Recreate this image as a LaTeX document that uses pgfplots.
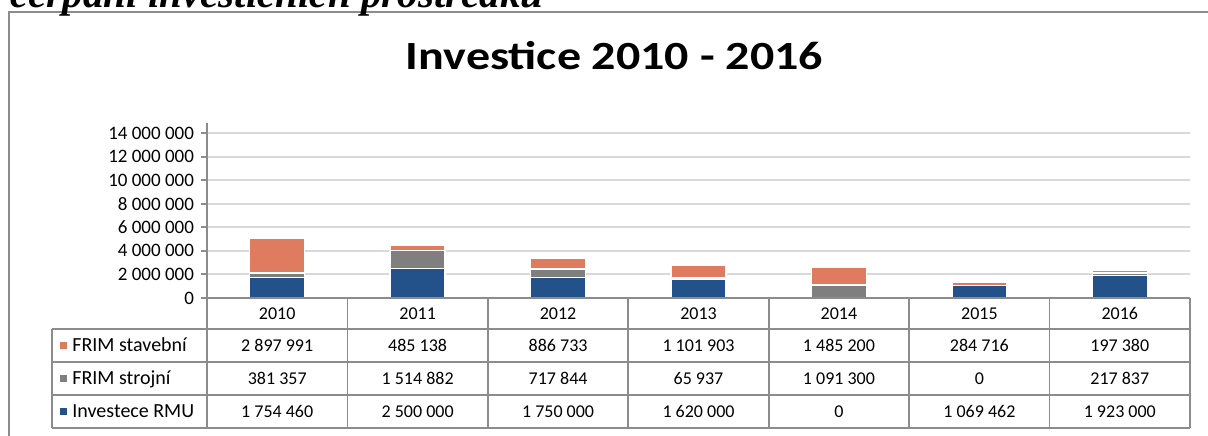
\documentclass[border=0pt]{standalone}
\usepackage{pgfplots}
\usepackage{pgfplotstable}
\pgfplotsset{compat=1.18}
\usepackage{fontspec}
\setmainfont{Carlito}
\newfontfamily\headserif{Liberation Serif}

\definecolor{rmu}{HTML}{23518A}
\definecolor{stroj}{HTML}{7F7F7F}
\definecolor{stav}{HTML}{DF7B5E}
\definecolor{gridc}{HTML}{D9D9D9}
\definecolor{framec}{HTML}{8C8C8C}

% year index, Investece RMU, FRIM strojni, FRIM stavebni
\pgfplotstableread{
x rmu stroj stav
0 1754460 381357 2897991
1 2500000 1514882 485138
2 1750000 717844 886733
3 1620000 65937 1101903
4 0 1091300 1485200
5 1069462 0 284716
6 1923000 217837 197380
}\data

\begin{document}
\begin{tikzpicture}
% 1 unit = 1 px of the 1208x435 reference
\begin{scope}[x=0.5pt,y=0.5pt]
\useasboundingbox (0,0) rectangle (1208,435);
\draw[framec, line width=0.9pt] (9,-10) -- (9,423) -- (1240,423);
\node[anchor=base west, inner sep=0] at (10,427)
  {\headserif\bfseries\itshape\fontsize{20.5}{22}\selectfont čerpání investičních prostředků};
\node[anchor=base, inner sep=0] at (614.5,365)
  {\scalebox{1.2}[1]{\bfseries\fontsize{20}{22}\selectfont Investice 2010 - 2016}};
\end{scope}

\begin{axis}[
  at={(103.5pt,68.5pt)}, anchor=south west,
  scale only axis, width=491.5pt, height=87.5pt,
  xmin=-0.5, xmax=6.5,
  ymin=0, ymax=14850000,
  ybar stacked, bar width=27.5pt,
  xtick=\empty,
  scaled y ticks=false,
  ytick={0,2000000,4000000,6000000,8000000,10000000,12000000,14000000},
  yticklabels={0,2 000 000,4 000 000,6 000 000,8 000 000,10 000 000,12 000 000,14 000 000},
  yticklabel style={font=\fontsize{9.5}{10}\selectfont},
  axis y line*=left, axis x line*=bottom,
  axis line style={framec, line width=1pt},
  tick align=outside, major tick length=3pt,
  ytick style={framec, line width=1pt},
  ymajorgrids, grid style={gridc, line width=1pt},
]
\addplot[fill=rmu, draw=white, line width=0.75pt] table[x=x,y=rmu]{\data};
\addplot[fill=stroj, draw=white, line width=0.75pt] table[x=x,y=stroj]{\data};
\addplot[fill=stav, draw=white, line width=0.75pt] table[x=x,y=stav]{\data};
\end{axis}

% data table below the plot
\begin{scope}[x=0.5pt,y=0.5pt]
\def\cw{140.4286}
\begin{scope}[framec, line width=0.8pt]
  \draw (207,137) -- (1190,137);
  \foreach \yy in {106,73,40,7} \draw (52,\yy) -- (1190,\yy);
  \draw (52,106) -- (52,7);
  \foreach \k in {0,...,7} \draw ({207+\k*\cw},137) -- ({207+\k*\cw},7);
\end{scope}

\begin{scope}[every node/.style={anchor=base, inner sep=0, font=\fontsize{9}{10}\selectfont}]
  \foreach \v [count=\i from 0] in {2010,2011,2012,2013,2014,2015,2016}
    \node at ({207+(\i+0.5)*\cw},115.5) {\v};
  \foreach \v [count=\i from 0] in {2 897 991,485 138,886 733,1 101 903,1 485 200,284 716,197 380}
    \node at ({207+(\i+0.5)*\cw},83.5) {\v};
  \foreach \v [count=\i from 0] in {381 357,1 514 882,717 844,65 937,1 091 300,0,217 837}
    \node at ({207+(\i+0.5)*\cw},50.5) {\v};
  \foreach \v [count=\i from 0] in {1 754 460,2 500 000,1 750 000,1 620 000,0,1 069 462,1 923 000}
    \node at ({207+(\i+0.5)*\cw},17.5) {\v};

  \fill[stav] (60,86) rectangle (67,93);
  \fill[stroj] (60,53) rectangle (67,60);
  \fill[rmu] (60,20) rectangle (67,27);
  \begin{scope}[every node/.style={anchor=base west, inner sep=0, font=\fontsize{10}{11}\selectfont}]
    \node at (72,83.5) {FRIM stavební};
    \node at (72,50.5) {FRIM strojní};
    \node at (72,17.5) {Investece RMU};
  \end{scope}
\end{scope}
\end{scope}
\end{tikzpicture}
\end{document}
